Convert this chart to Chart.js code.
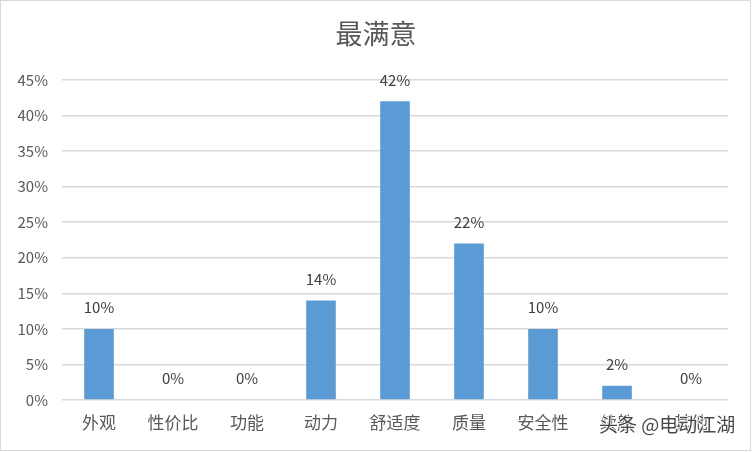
<!DOCTYPE html>
<html lang="zh">
<head>
    <meta charset="UTF-8">
    <title>最满意</title>
    <script src="https://cdn.jsdelivr.net/npm/chart.js@4.4.0/dist/chart.umd.min.js"></script>
    <style>
        body { margin: 0; background: #fff; }
        #chart { display: block; }
    </style>
</head>
<body>
    <canvas id="chart" width="752" height="452"></canvas>
    <script>
    var categories = ["外观", "性价比", "功能", "动力", "舒适度", "质量", "安全性", "续航", "其他"];
    var values = [10, 0, 0, 14, 42, 22, 10, 2, 0];
    var yTicks = [0, 5, 10, 15, 20, 25, 30, 35, 40, 45];

    var fontFamily = "'Noto Sans CJK SC', 'Noto Sans', sans-serif";

    // value labels above bars
    var barLabels = {
        id: 'barLabels',
        afterDatasetsDraw: function (chart) {
            var ctx = chart.ctx;
            var meta = chart.getDatasetMeta(0);
            ctx.save();
            ctx.fillStyle = '#404040';
            ctx.font = "15px " + fontFamily;
            ctx.textAlign = 'center';
            ctx.textBaseline = 'bottom';
            meta.data.forEach(function (bar, i) {
                ctx.fillText(values[i] + '%', bar.x, bar.y - 14);
            });
            ctx.restore();
        }
    };

    // title centred on the whole canvas, outer frame, watermark
    var frame = {
        id: 'frame',
        afterDraw: function (chart) {
            var ctx = chart.ctx;
            ctx.save();
            ctx.fillStyle = '#595959';
            ctx.font = "27px " + fontFamily;
            ctx.textAlign = 'center';
            ctx.textBaseline = 'middle';
            ctx.fillText('最满意', 376, 34);

            ctx.strokeStyle = '#d9d9d9';
            ctx.lineWidth = 1;
            ctx.strokeRect(0.5, 0.5, 750, 450);

            ctx.font = "19px " + fontFamily;
            ctx.textAlign = 'left';
            ctx.lineWidth = 2;
            ctx.strokeStyle = 'rgba(255,255,255,0.8)';
            ctx.strokeText('头条 @电动江湖', 599, 425);
            ctx.fillStyle = 'rgba(40,40,40,0.85)';
            ctx.fillText('头条 @电动江湖', 599, 425);
            ctx.restore();
        }
    };

    new Chart(document.getElementById('chart'), {
        type: 'bar',
        data: {
            labels: categories,
            datasets: [{
                data: values,
                backgroundColor: '#5b9bd5',
                categoryPercentage: 1.0,
                barPercentage: 0.4
            }]
        },
        options: {
            responsive: false,
            animation: false,
            layout: { padding: { left: 0, right: 24, top: 80, bottom: 0 } },
            plugins: {
                legend: { display: false },
                tooltip: { enabled: false },
                title: { display: false }
            },
            scales: {
                x: {
                    grid: { display: false },
                    border: { display: false },
                    ticks: {
                        color: '#595959',
                        font: { family: fontFamily, size: 17 },
                        padding: 4,
                        maxRotation: 0,
                        autoSkip: false
                    },
                    afterFit: function (scale) { scale.height = 52; }
                },
                y: {
                    min: 0,
                    max: 45,
                    afterBuildTicks: function (scale) {
                        scale.ticks = yTicks.map(function (v) { return { value: v }; });
                    },
                    grid: { color: '#d9d9d9', lineWidth: 1.5, drawTicks: false },
                    border: { display: false },
                    ticks: {
                        color: '#595959',
                        font: { family: fontFamily, size: 15 },
                        padding: 14,
                        callback: function (v) { return v + '%'; }
                    },
                    afterFit: function (scale) { scale.width = 62; }
                }
            }
        },
        plugins: [barLabels, frame]
    });
    </script>
</body>
</html>
